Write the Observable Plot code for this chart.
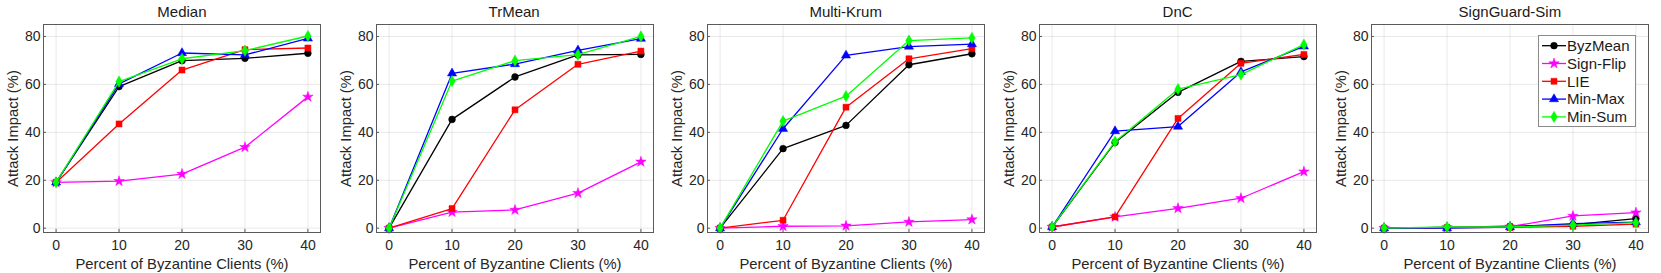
<!DOCTYPE html>
<html>
<head>
<meta charset="utf-8">
<script src="https://cdn.jsdelivr.net/npm/d3@7"></script>
<script src="https://cdn.jsdelivr.net/npm/@observablehq/plot@0.6"></script>
<style>
  html, body { margin: 0; padding: 0; background: #fff; }
  body { width: 1661px; height: 273px; position: relative; overflow: hidden; font-family: "Liberation Sans", Arial, sans-serif; color: #262626; }
  svg, svg text { font-family: "Liberation Sans", Arial, sans-serif !important; }
  .panel { position: absolute; top: 0; }
  .title { height: 23px; line-height: 24px; text-align: center; font-size: 15px; font-weight: normal; color: #1a1a1a; box-sizing: border-box; white-space: nowrap; }
  .legend { position: absolute; background: #fff; border: 1px solid #8a8a8a; box-sizing: border-box; }
  .legend svg { display: block; }
</style>
</head>
<body>
<script>
// ---- data ----
const xs = [0, 10, 20, 30, 40];
const seriesNames = ["ByzMean", "Sign-Flip", "LIE", "Min-Max", "Min-Sum"];
const seriesColors = ["#000000", "#ff00ff", "#ff0000", "#0000ff", "#00ff00"];
const seriesSymbols = ["circle", "star", "square", "triangle", "diamond"];
const panelTitles = ["Median", "TrMean", "Multi-Krum", "DnC", "SignGuard-Sim"];
const xTicks = [0, 10, 20, 30, 40];
const yTicks = [0, 20, 40, 60, 80];

// rows follow seriesNames order
const medianVals = [
  [19.1, 59.1, 69.9, 70.9, 73.0],
  [19.1, 19.6, 22.6, 33.8, 54.8],
  [19.1, 43.5, 66.0, 74.5, 75.2],
  [19.1, 60.2, 73.1, 72.3, 79.2],
  [19.1, 61.2, 70.7, 74.1, 80.2]
];
const trMeanVals = [
  [0, 45.4, 63.1, 72.3, 72.5],
  [0, 6.7, 7.6, 14.6, 27.7],
  [0, 8.2, 49.4, 68.4, 73.9],
  [0, 64.6, 68.5, 74.2, 79.1],
  [0, 61.4, 69.9, 72.4, 80.0]
];
const multiKrumVals = [
  [0, 33.2, 42.9, 68.2, 72.8],
  [0, 0.8, 1.0, 2.6, 3.6],
  [0, 3.3, 50.5, 70.7, 74.9],
  [0, 41.5, 72.1, 75.8, 76.8],
  [0, 44.7, 55.1, 78.3, 79.4]
];
const dncVals = [
  [0.5, 35.8, 56.7, 69.6, 71.6],
  [0.5, 4.7, 8.3, 12.5, 23.6],
  [0.5, 4.7, 45.8, 68.8, 72.5],
  [0.5, 40.5, 42.4, 65.2, 75.9],
  [0.5, 36.1, 58.0, 64.1, 76.6]
];
const signGuardVals = [
  [0, 0.3, 0.8, 1.5, 4.0],
  [0, 0.3, 0.6, 5.1, 6.5],
  [0, 0.2, 0.3, 0.8, 1.7],
  [0, 0.0, 0.5, 1.9, 2.5],
  [0, 0.5, 0.5, 1.3, 2.3]
];
const panelValues = [medianVals, trMeanVals, multiKrumVals, dncVals, signGuardVals];

const xLabel = "Percent of Byzantine Clients (%)";
const yLabel = "Attack Impact (%)";

// ---- layout ----
const mL = 44, mR = 8, innerW = 277, svgH = 250;
const panelLeft = [43.4, 375.6, 707.2, 1039.1, 1371.4];
const markerR = s => s === "Sign-Flip" ? 3.3 : 3.4;

panelTitles.forEach((title, p) => {
  const rows = [];
  seriesNames.forEach((s, si) => {
    xs.forEach((x, i) => rows.push({series: s, x, y: panelValues[p][si][i]}));
  });
  const marks = [
    Plot.gridX(xTicks, {stroke: "#000", strokeOpacity: 0.09, strokeWidth: 1}),
    Plot.gridY(yTicks, {stroke: "#000", strokeOpacity: 0.09, strokeWidth: 1}),
    Plot.axisX({ticks: xTicks, tickSize: -3, tickPadding: 11, fontSize: 14, stroke: "#5a5a5a", label: xLabel, labelAnchor: "center", labelArrow: "none", labelOffset: 36}),
    Plot.axisY({ticks: yTicks, tickSize: -3, tickPadding: 6, fontSize: 14, stroke: "#5a5a5a", label: yLabel, labelAnchor: "center", labelArrow: "none", labelOffset: 36})
  ];
  seriesNames.forEach((s, si) => {
    const d = rows.filter(r => r.series === s);
    marks.push(Plot.line(d, {x: "x", y: "y", stroke: "series", strokeWidth: 1.3}));
    marks.push(Plot.dot(d, {x: "x", y: "y", fill: "series", stroke: "series", symbol: "series", r: markerR(s), strokeWidth: 0.5}));
  });
  marks.push(Plot.frame({stroke: "#5a5a5a", strokeWidth: 1}));

  const chart = Plot.plot({
    width: mL + innerW + mR,
    height: svgH,
    marginLeft: mL,
    marginRight: mR,
    marginTop: 1,
    marginBottom: 41,
    style: {fontFamily: "'Liberation Sans', Arial, sans-serif", fontSize: "14px", color: "#262626", background: "white", overflow: "visible"},
    x: {domain: [-2, 42]},
    y: {domain: [-1.8, 85]},
    color: {domain: seriesNames, range: seriesColors},
    symbol: {domain: seriesNames, range: seriesSymbols},
    marks
  });
  const panel = document.createElement("div");
  panel.className = "panel";
  panel.style.left = (panelLeft[p] - mL) + "px";
  const t = document.createElement("div");
  t.className = "title";
  t.style.paddingLeft = mL + "px";
  t.style.paddingRight = mR + "px";
  t.textContent = title;
  panel.appendChild(t);
  panel.appendChild(chart);
  document.body.appendChild(panel);
  d3.select(chart).selectAll("g[aria-label='x-axis label'] text, g[aria-label='y-axis label'] text").style("font-size", "14.8px");
});

// ---- legend (in last panel) ----
const legend = document.createElement("div");
legend.className = "legend";
legend.style.left = "1538px";
legend.style.top = "35px";
legend.style.width = "98px";
legend.style.height = "92px";
document.body.appendChild(legend);
const lsvg = d3.select(legend).append("svg").attr("width", 96).attr("height", 90)
  .style("font-size", "15px");
const symMap = {circle: d3.symbolCircle, star: d3.symbolStar, square: d3.symbolSquare, triangle: d3.symbolTriangle, diamond: d3.symbolDiamond};
seriesNames.forEach((s, i) => {
  const cy = 9.7 + i * 17.8;
  const g = lsvg.append("g");
  g.append("line").attr("x1", 3).attr("x2", 27).attr("y1", cy).attr("y2", cy).attr("stroke", seriesColors[i]).attr("stroke-width", 1.3);
  const r = markerR(s);
  g.append("path").attr("transform", `translate(15,${cy})`).attr("d", d3.symbol(symMap[seriesSymbols[i]], Math.PI * r * r)())
    .attr("fill", seriesColors[i]).attr("stroke", seriesColors[i]).attr("stroke-width", 0.5);
  g.append("text").attr("x", 28).attr("y", cy).attr("dy", "0.35em").attr("fill", "#1a1a1a").text(s);
});
</script>
</body>
</html>
